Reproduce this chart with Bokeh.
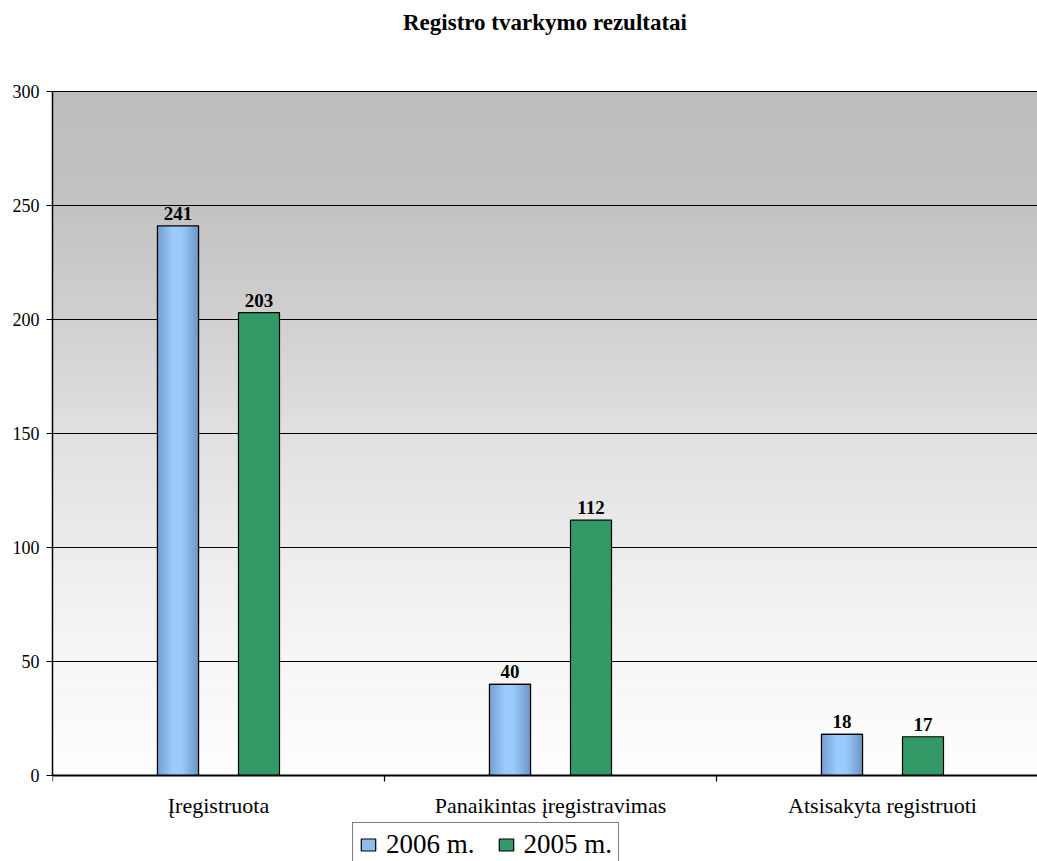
import numpy as np
from bokeh.plotting import figure
from bokeh.models import Range1d, FixedTicker, Legend, LegendItem
from bokeh.embed import file_html
from bokeh.resources import INLINE
from bokeh.core.properties import value

# ---- data ----
categories = ["Įregistruota", "Panaikintas įregistravimas", "Atsisakyta registruoti"]
series_names = ["2006 m.", "2005 m."]
v2006 = [241, 40, 18]
v2005 = [203, 112, 17]
y_ticks = [0, 50, 100, 150, 200, 250, 300]
title_text = "Registro tvarkymo rezultatai"

# ---- layout / styling ----
SERIF = "Liberation Serif"
BLUE = "#8fbcec"
GREEN = "#339966"
W, H = 1037, 861
LEFT = 52
TOP_PX, BOTTOM_PX = 91, 775          # pixel rows of y=300 and y=0
PX_PER_Y = (BOTTOM_PX - TOP_PX) / 300
CAT_PX = 332                          # pixel width of one category slot
XMAX = (W - LEFT) / CAT_PX
bar_w = 41 / CAT_PX
offset = 40.5 / CAT_PX

p = figure(width=W, height=H, output_backend="svg", toolbar_location=None,
           x_range=Range1d(0, XMAX),
           y_range=Range1d(-(H - BOTTOM_PX) / PX_PER_Y, 300 + TOP_PX / PX_PER_Y),
           min_border_left=LEFT, min_border_right=0, min_border_top=0, min_border_bottom=0,
           outline_line_color=None)

# background gradient of the plot area (styling only)
bg_stops = [(0, 254), (50, 246), (100, 236), (150, 224), (200, 208), (250, 194), (300, 189)]
rows = 300
img = np.zeros((rows, 1), dtype=np.uint32)
view = img.view(dtype=np.uint8).reshape((rows, 1, 4))
ys = np.arange(rows) + 0.5
grays = np.interp(ys, [s[0] for s in bg_stops], [s[1] for s in bg_stops]).round().astype(np.uint8)
view[:, 0, 0] = grays
view[:, 0, 1] = grays
view[:, 0, 2] = grays
view[:, 0, 3] = 255
p.image_rgba(image=[img], x=0, y=0, dw=XMAX, dh=300, level="underlay")

p.xgrid.grid_line_color = None
p.ygrid.grid_line_color = "black"
p.ygrid.grid_line_width = 1
p.ygrid.level = "underlay"

xc = [i + 0.5 for i in range(len(categories))]
x06 = [x - offset for x in xc]
x05 = [x + offset for x in xc]

# base bars (used for legend)
r06 = p.vbar(x=x06, top=v2006, width=bar_w, fill_color=BLUE, line_color="black", line_width=1.2)
r05 = p.vbar(x=x05, top=v2005, width=bar_w, fill_color=GREEN, line_color="black", line_width=1.2)

# gradient strips for the blue bars
profile = [(0.0, (0x74, 0x9e, 0xcf)), (0.4, (0x9d, 0xcd, 0xff)), (0.6, (0x99, 0xca, 0xfc)), (1.0, (0x6e, 0x97, 0xc6))]
n_strips = 24
sx, st, sc = [], [], []
for x, v in zip(x06, v2006):
    for k in range(n_strips):
        t = (k + 0.5) / n_strips
        for (a, ca), (b, cb) in zip(profile[:-1], profile[1:]):
            if a <= t <= b:
                f = (t - a) / (b - a)
                col = tuple(int(round(ca[j] + (cb[j] - ca[j]) * f)) for j in range(3))
                break
        sx.append(x - bar_w / 2 + bar_w * t)
        st.append(v)
        sc.append("#%02x%02x%02x" % col)
p.vbar(x=sx, top=st, width=bar_w / n_strips * 1.3, fill_color=sc, line_color=None)
p.vbar(x=x06, top=v2006, width=bar_w, fill_color=None, line_color="black", line_width=1.2)

# value labels
for xs, vs in ((x06, v2006), (x05, v2005)):
    p.text(x=xs, y=vs, text=[str(v) for v in vs], text_align="center", text_baseline="bottom",
           y_offset=-6, text_font=value(SERIF), text_font_style="bold", text_font_size="19px",
           text_color="black")

# y axis
p.yaxis.ticker = FixedTicker(ticks=y_ticks)
p.yaxis.bounds = (0, 300)
p.yaxis.major_label_text_font = SERIF
p.yaxis.major_label_text_font_size = "18px"
p.yaxis.major_label_text_color = "black"
p.yaxis.axis_line_color = "black"
p.yaxis.axis_line_width = 1.5
p.yaxis.major_tick_in = 0
p.yaxis.major_tick_out = 6
p.yaxis.major_tick_line_color = "black"
p.yaxis.minor_tick_line_color = None
p.yaxis.major_label_standoff = 7

# category axis drawn at y = 0
p.xaxis.visible = False
p.hspan(y=[0], line_color="black", line_width=2)
bounds = list(range(len(categories) + 1))
tick_len = 6 / PX_PER_Y
p.segment(x0=bounds, y0=[0] * len(bounds), x1=bounds, y1=[-tick_len] * len(bounds),
          line_color="black", line_width=1.2)
p.text(x=xc, y=[0] * len(xc), text=categories, text_align="center", text_baseline="middle",
       y_offset=30, text_font=value(SERIF), text_font_size="22px", text_color="black")

# title
p.text(x=[XMAX / 2], y=[300], text=[title_text], text_align="center", text_baseline="middle",
       y_offset=-69, text_font=value(SERIF), text_font_size="23px", text_font_style="bold",
       text_color="black")

legend = Legend(items=[LegendItem(label=series_names[0], renderers=[r06]),
                       LegendItem(label=series_names[1], renderers=[r05])],
                orientation="horizontal", location=(300, -6),
                label_text_font=SERIF, label_text_font_size="27px", label_text_color="black",
                glyph_width=18, glyph_height=15, label_standoff=9, spacing=22, padding=6,
                margin=0, border_line_color="black", border_line_width=1,
                background_fill_color="white", background_fill_alpha=1)
p.add_layout(legend)

open("out.html", "w").write(file_html(p, INLINE))
